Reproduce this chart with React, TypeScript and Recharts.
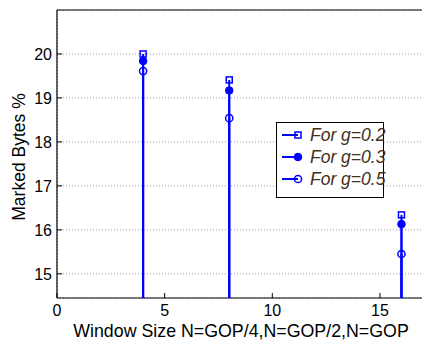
import { ComposedChart, Scatter, XAxis, YAxis, CartesianGrid, Label } from 'recharts'

const WINDOW_SIZES = [4, 8, 16]
const G02 = [20.0, 19.41, 16.34]
const G03 = [19.84, 19.17, 16.13]
const G05 = [19.61, 18.54, 15.45]
const X_TICKS = [0, 5, 10, 15]
const Y_TICKS = [15, 16, 17, 18, 19, 20]

const BLUE = '#0000ff'
const FONT = '"Liberation Sans", Arial, Helvetica, sans-serif'

const W = 440
const H = 341
const MARGIN = { top: 9, right: 17, bottom: 0, left: 0 }
const X_AXIS_H = 43
const Y_AXIS_W = 57
const BASE_Y = H - MARGIN.bottom - X_AXIS_H

type Marker = 'square' | 'dot' | 'circle'

const SERIES: { name: string; values: number[]; marker: Marker }[] = [
  { name: 'For g=0.2', values: G02, marker: 'square' },
  { name: 'For g=0.3', values: G03, marker: 'dot' },
  { name: 'For g=0.5', values: G05, marker: 'circle' },
]

function MarkerShape({ kind, x, y }: { kind: Marker; x: number; y: number }) {
  if (kind === 'square')
    return <rect x={x - 3} y={y - 3} width={6} height={6} fill="none" stroke={BLUE} strokeWidth={1.5} />
  if (kind === 'dot') return <circle cx={x} cy={y} r={3.8} fill={BLUE} stroke={BLUE} strokeWidth={1} />
  return <circle cx={x} cy={y} r={3.6} fill="none" stroke={BLUE} strokeWidth={1.5} />
}

const stem = (kind: Marker) => (p: any) => (
  <g>
    <line x1={p.cx} x2={p.cx} y1={BASE_Y} y2={p.cy} stroke={BLUE} strokeWidth={2} />
    <MarkerShape kind={kind} x={p.cx} y={p.cy} />
  </g>
)

function XTick(p: any) {
  return (
    <g>
      <line x1={p.x} x2={p.x} y1={p.y} y2={p.y - 5} stroke="#000" />
      <text x={p.x} y={p.y + 18} textAnchor="middle" fontSize={16} fontFamily={FONT} fill="#000">
        {p.payload.value}
      </text>
    </g>
  )
}

function TopTick(p: any) {
  return <line x1={p.x} x2={p.x} y1={p.y} y2={p.y + 5} stroke="#000" />
}

function YTick(p: any) {
  return (
    <g>
      <line x1={p.x} x2={p.x + 5} y1={p.y} y2={p.y} stroke="#000" />
      <text x={p.x - 5} y={p.y + 6} textAnchor="end" fontSize={16} fontFamily={FONT} fill="#000">
        {p.payload.value}
      </text>
    </g>
  )
}

function LegendBox() {
  return (
    <div style={{
      position: 'absolute', left: 276, top: 122, width: 106, height: 74,
      border: '1.2px solid #000', background: '#fff',
    }}>
      {SERIES.map((s, i) => (
        <div key={s.name} style={{ position: 'absolute', left: 0, top: 2 + i * 22, height: 20, width: 106 }}>
          <svg width={30} height={20} style={{ position: 'absolute', left: 0, top: 0 }}>
            <line x1={5} x2={21} y1={10} y2={10} stroke={BLUE} strokeWidth={2} />
            <MarkerShape kind={s.marker} x={21} y={10} />
          </svg>
          <span style={{
            position: 'absolute', left: 33, top: 0, lineHeight: '20px',
            fontSize: 17.5, fontStyle: 'italic', fontFamily: FONT, color: '#45301c', whiteSpace: 'nowrap',
          }}>{s.name}</span>
        </div>
      ))}
    </div>
  )
}

export default function App() {
  return (
    <div style={{ position: 'fixed', left: 0, top: 0, width: 422, height: 341, overflow: 'hidden', background: '#fff' }}>
      <ComposedChart width={W} height={H} margin={MARGIN}>
        <CartesianGrid stroke="#999" strokeDasharray="1 2" />
        <XAxis
          xAxisId="b" type="number" dataKey="x" domain={[0, 17]} ticks={X_TICKS}
          allowDataOverflow height={X_AXIS_H} tickSize={0} tickMargin={0} tickLine={false}
          axisLine={{ stroke: '#000', strokeWidth: 1.2 }} tick={<XTick />}
        >
          <Label content={() => (
            <text x={241} y={337} textAnchor="middle" fontSize={17.8} fontFamily={FONT} fill="#000">
              Window Size N=GOP/4,N=GOP/2,N=GOP
            </text>
          )} />
        </XAxis>
        <XAxis
          xAxisId="t" orientation="top" type="number" domain={[0, 17]} ticks={X_TICKS}
          allowDataOverflow height={1} tickSize={0} tickMargin={0} tickLine={false}
          axisLine={{ stroke: '#000', strokeWidth: 1.2 }} tick={<TopTick />}
        />
        <YAxis
          type="number" dataKey="y" domain={[14.45, 21]} ticks={Y_TICKS} allowDataOverflow
          width={Y_AXIS_W} tickSize={0} tickMargin={0} tickLine={false}
          axisLine={{ stroke: '#000', strokeWidth: 1.2 }} tick={<YTick />}
        >
          <Label content={() => (
            <text transform="translate(25,157) rotate(-90)" textAnchor="middle" fontSize={17.5} fontFamily={FONT} fill="#000">
              Marked Bytes %
            </text>
          )} />
        </YAxis>
        {SERIES.map(s => (
          <Scatter
            key={s.name}
            xAxisId="b"
            name={s.name}
            data={WINDOW_SIZES.map((x, i) => ({ x, y: s.values[i] }))}
            shape={stem(s.marker)}
            isAnimationActive={false}
          />
        ))}
      </ComposedChart>
      <LegendBox />
    </div>
  )
}
